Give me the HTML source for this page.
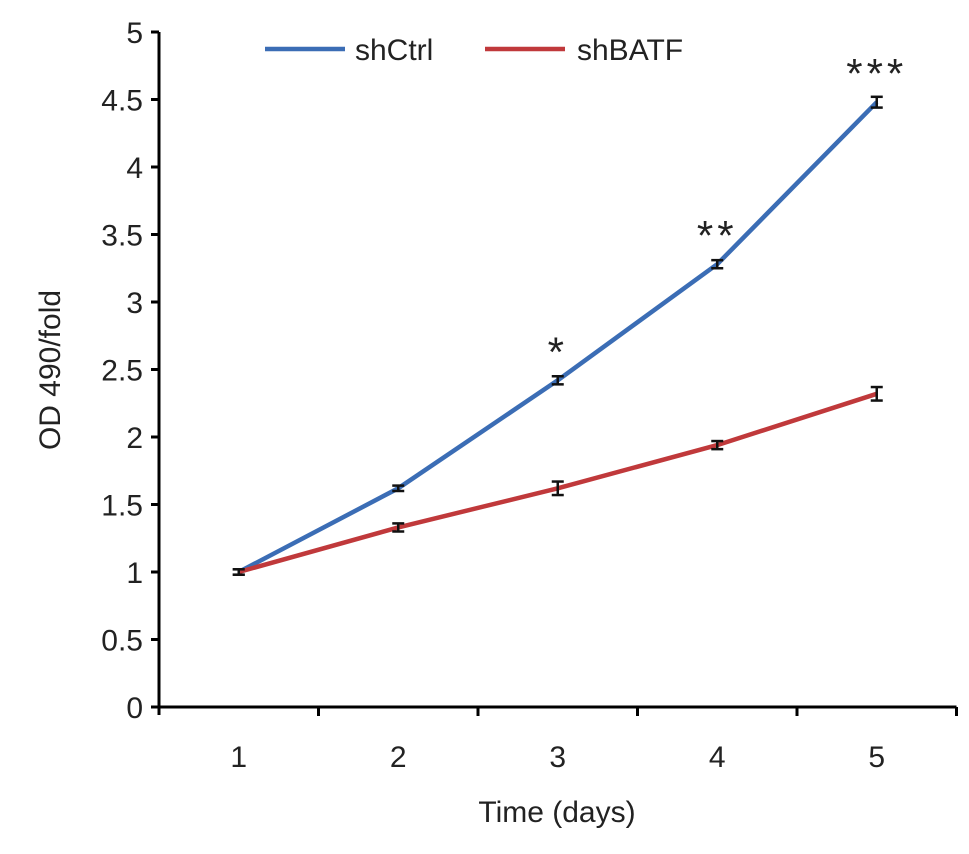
<!DOCTYPE html>
<html><head><meta charset="utf-8"><style>
body{margin:0;background:#fff}
svg{font-family:"Liberation Sans",sans-serif}
</style></head><body>
<svg id="c" width="969" height="849"></svg>
<script>
const categories=[1,2,3,4,5];
const shCtrl=[1,1.62,2.42,3.28,4.48];
const shBATF=[1,1.33,1.62,1.94,2.32];
const errCtrl=[0.02,0.02,0.03,0.03,0.04];
const errBATF=[0.02,0.03,0.05,0.03,0.05];
const yTicks=[0,0.5,1,1.5,2,2.5,3,3.5,4,4.5,5];
const stars=["","","*","**","***"];
const NS="http://www.w3.org/2000/svg";
const svg=document.getElementById('c');
const x0=159,step=159.5,y0=707,unit=135;
const X=i=>x0+step*(i+0.5);
const Y=v=>y0-v*unit;
function mk(t,a,p){const e=document.createElementNS(NS,t);for(const k in a)e.setAttribute(k,a[k]);(p||svg).appendChild(e);return e;}
let e;
e=mk('line',{x1:x0,y1:Y(5),x2:x0,y2:y0+8,stroke:'#000','stroke-width':3});


e=mk('line',{x1:x0-8,y1:y0,x2:x0+step*5,y2:y0,stroke:'#000','stroke-width':3});


yTicks.forEach(v=>{
 mk('line',{x1:x0-8,y1:Y(v),x2:x0,y2:Y(v),stroke:'#000','stroke-width':3});
 const t=mk('text',{x:x0-16,y:Y(v)+11,'text-anchor':'end','font-size':30,fill:'#222'});t.textContent=v;
 
 
});
for(let i=1;i<=5;i++)mk('line',{x1:x0+step*i,y1:y0,x2:x0+step*i,y2:y0+9,stroke:'#000','stroke-width':3});
categories.forEach((c,i)=>{
 const t=mk('text',{x:X(i),y:767,'text-anchor':'middle','font-size':30,fill:'#222'});t.textContent=c;
 
 
});
e=mk('text',{x:557,y:822,'text-anchor':'middle','font-size':30,fill:'#222'});e.textContent='Time (days)';


e=mk('text',{x:60,y:370,'text-anchor':'middle','font-size':30,fill:'#222',transform:'rotate(-90 60 370)'});e.textContent='OD 490/fold';


function series(vals,errs,color,name){
 const p=mk('polyline',{points:vals.map((v,i)=>X(i)+','+Y(v)).join(' '),fill:'none',stroke:color,'stroke-width':4.5});
 
 
 vals.forEach((v,i)=>{
  const g=mk('g',{});
  
  
  const a=Y(v+errs[i]),b=Y(v-errs[i]);
  mk('line',{x1:X(i),y1:a,x2:X(i),y2:b,stroke:'#111','stroke-width':2.5},g);
  mk('line',{x1:X(i)-6,y1:a,x2:X(i)+6,y2:a,stroke:'#111','stroke-width':2.5},g);
  mk('line',{x1:X(i)-6,y1:b,x2:X(i)+6,y2:b,stroke:'#111','stroke-width':2.5},g);
 });
}
series(shCtrl,errCtrl,'#3b6db5','shctrl');
series(shBATF,errBATF,'#c0393b','shbatf');
stars.forEach((s,i)=>{if(!s)return;
 const t=mk('text',{x:X(i),y:Y(shCtrl[i])-14,'text-anchor':'middle','font-size':42,'letter-spacing':4,fill:'#222'});t.textContent=s;
 
 
});
e=mk('line',{x1:265,y1:49,x2:345,y2:49,stroke:'#3b6db5','stroke-width':4.5});


e=mk('text',{x:355,y:60,'font-size':30,fill:'#222'});e.textContent='shCtrl';


e=mk('line',{x1:485,y1:49,x2:565,y2:49,stroke:'#c0393b','stroke-width':4.5});


e=mk('text',{x:577,y:60,'font-size':30,fill:'#222'});e.textContent='shBATF';


</script>
</body></html>
